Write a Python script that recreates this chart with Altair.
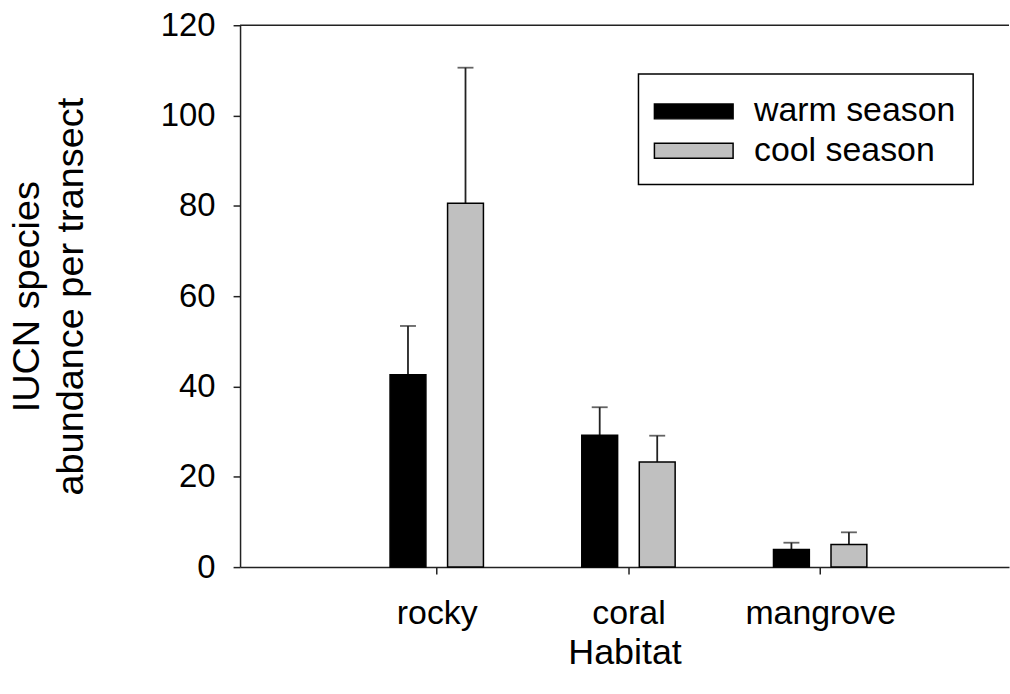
import json
import altair as alt
import pandas as pd

# Mean IUCN species abundance per transect (± SE) by habitat and season
habitats = ["rocky", "coral", "mangrove"]
seasons = ["warm season", "cool season"]
warm_mean = [42.6, 29.2, 3.9]
warm_se = [10.8, 6.2, 1.5]
cool_mean = [80.6, 23.3, 5.0]
cool_se = [30.0, 5.8, 2.7]
y_ticks = [0, 20, 40, 60, 80, 100, 120]

W, H = 772, 544           # plot area in pixels
STEP = 195                # pixels between habitat groups
X_MAX = W / STEP          # x domain end in category units
GROUP_SHIFT = 0.15        # bar offset from the category tick, in category units

rows = []
for i, hab in enumerate(habitats):
    for season, means, ses, sign in (
        (seasons[0], warm_mean, warm_se, -1),
        (seasons[1], cool_mean, cool_se, 1),
    ):
        rows.append({
            "habitat": hab,
            "season": season,
            "mean": means[i],
            "upper": means[i] + ses[i],
            "pos": i + 1 + sign * GROUP_SHIFT,
        })
df = pd.DataFrame(rows)

FONT = "Liberation Sans"
label_expr = f"{json.dumps(habitats)}[datum.value - 1]"

x_enc = alt.X(
    "pos:Q",
    scale=alt.Scale(domain=[0, X_MAX], nice=False, zero=False),
    axis=alt.Axis(
        values=[1, 2, 3],
        labelExpr=label_expr,
        title="Habitat",
        grid=False,
        labelFontSize=34,
        titleFontSize=36,
        labelPadding=23,
        titlePadding=5,
        tickSize=7,
    ),
)
y_scale = alt.Scale(domain=[0, 120], nice=False)

base = alt.Chart(df)

# wide flat legend swatch: path spans 2x the nominal symbol box horizontally
swatch = "M-2,-0.38L2,-0.38L2,0.38L-2,0.38Z"

bars = base.mark_bar(size=36, stroke="black", strokeWidth=1.5).encode(
    x=x_enc,
    y=alt.Y(
        "mean:Q",
        scale=y_scale,
        axis=alt.Axis(
            values=y_ticks,
            title=["IUCN species", "abundance per transect"],
            grid=False,
            labelFontSize=33,
            titleFontSize=38,
            titleLineHeight=44,
            labelPadding=18,
            titlePadding=70,
            tickSize=7,
        ),
    ),
    color=alt.Color(
        "season:N",
        scale=alt.Scale(domain=seasons, range=["#000000", "#c0c0c0"]),
        sort=seasons,
        legend=alt.Legend(
            title=None,
            orient="none",
            legendX=400,
            legendY=49,
            padding=17,
            strokeColor="black",
            fillColor="white",
            symbolType=swatch,
            symbolSize=1560,
            symbolOffset=18,
            symbolStrokeColor="black",
            symbolStrokeWidth=1.5,
            labelFontSize=34,
            labelOffset=40,
            rowPadding=1.5,
            labelLimit=400,
        ),
    ),
)

err = base.mark_rule(color="#222222", strokeWidth=1.8).encode(
    x="pos:Q",
    y=alt.Y("mean:Q", scale=y_scale),
    y2="upper:Q",
)

caps = base.mark_tick(orient="horizontal", size=16, thickness=1.8, color="#222222").encode(
    x="pos:Q",
    y=alt.Y("upper:Q", scale=y_scale),
)

top_line = alt.Chart(pd.DataFrame({"v": [120]})).mark_rule(
    color="#222222", strokeWidth=1.5
).encode(
    y=alt.Y("v:Q", scale=y_scale),
    x=alt.value(0),
    x2=alt.value(W),
)

chart = (
    alt.layer(err, caps, bars, top_line)
    .properties(
        width=W,
        height=H,
        padding={"left": 8, "top": 8, "right": 0, "bottom": 5},
        background="white",
    )
    .configure_view(strokeWidth=0)
    .configure_axis(
        labelFont=FONT,
        titleFont=FONT,
        labelColor="black",
        titleColor="black",
        titleFontWeight="normal",
        domainColor="#222222",
        domainWidth=1.5,
        tickColor="#222222",
        tickWidth=1.5,
    )
    .configure_legend(labelFont=FONT, labelColor="black", strokeWidth=1.5)
)

chart.save("out.html", embed_options={"renderer": "svg", "actions": False})
